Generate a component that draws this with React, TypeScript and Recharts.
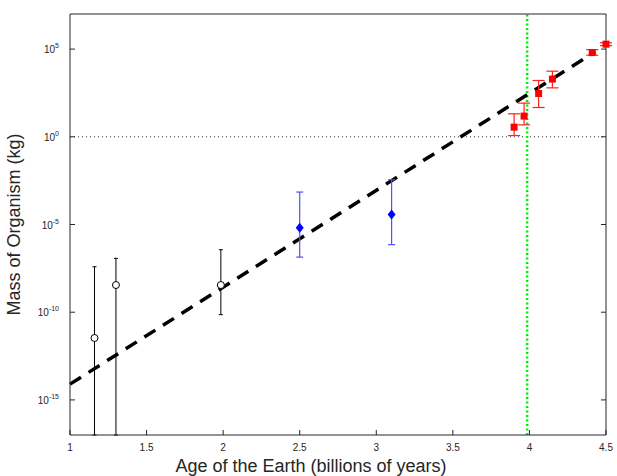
import React from 'react';
import { ComposedChart, Scatter, Line, ErrorBar, XAxis, YAxis, ReferenceLine } from 'recharts';

// masses are stored as log10(kg)
const xTicks = [1, 1.5, 2, 2.5, 3, 3.5, 4, 4.5];
const yTicks = [-15, -10, -5, 0, 5];

const blackAge = [1.16, 1.3, 1.985];
const blackMass = [-11.47, -8.45, -8.45];
const blackLow = [-17, -17, -10.14];
const blackHigh = [-7.41, -6.93, -6.44];

const blueAge = [2.5, 3.1];
const blueMass = [-5.18, -4.43];
const blueLow = [-6.86, -6.15];
const blueHigh = [-3.15, -2.45];

const redAge = [3.9, 3.965, 4.06, 4.15, 4.41, 4.5];
const redMass = [0.55, 1.18, 2.47, 3.29, 4.8, 5.28];
const redLow = [0.07, 0.68, 1.67, 2.79, 4.65, 5.2];
const redHigh = [1.31, 1.92, 3.21, 3.74, 4.97, 5.36];

const fitAge = [1, 4.43];
const fitMass = [-14.1, 4.85];

const greenAge = 3.985;

const build = (ages: number[], mass: number[], lo: number[], hi: number[]) =>
  ages.map((x, i) => ({ x, y: mass[i], err: [mass[i] - lo[i], hi[i] - mass[i]] }));

const blackData = build(blackAge, blackMass, blackLow, blackHigh);
const blueData = build(blueAge, blueMass, blueLow, blueHigh);
const redData = build(redAge, redMass, redLow, redHigh);
const fitData = fitAge.map((x, i) => ({ x, y: fitMass[i] }));

const AXIS = '#262626';
const FONT = 'Liberation Sans, Arial, Helvetica, sans-serif';

const BottomTick = (p: any) => (
  <g>
    <line x1={p.x} x2={p.x} y1={p.y} y2={p.y - 5} stroke={AXIS} />
    <text x={p.x} y={p.y + 16} textAnchor="middle" fontSize={10} fill={AXIS} fontFamily={FONT}>
      {p.payload.value}
    </text>
  </g>
);

const LeftTick = (p: any) => (
  <g>
    <line x1={p.x} x2={p.x + 5} y1={p.y} y2={p.y} stroke={AXIS} />
    <text x={p.x - 11} y={p.y + 4} textAnchor="end" fontSize={10} fill={AXIS} fontFamily={FONT}>
      <tspan>10</tspan>
      <tspan dy={-5} fontSize={7}>{p.payload.value}</tspan>
    </text>
  </g>
);

const RightTick = (p: any) => (
  <line x1={p.x} x2={p.x - 5} y1={p.y} y2={p.y} stroke={AXIS} />
);

const Circle = (p: any) => (
  <circle cx={p.cx} cy={p.cy} r={3.5} fill="#fff" stroke="#000" strokeWidth={1} />
);

const Diamond = (p: any) => (
  <path d={`M${p.cx},${p.cy - 5} L${p.cx + 4},${p.cy} L${p.cx},${p.cy + 5} L${p.cx - 4},${p.cy} Z`} fill="#0000ff" />
);

const Square = (p: any) => (
  <rect x={p.cx - 3.5} y={p.cy - 3.5} width={7} height={7} fill="#ff0000" />
);

export default function App() {
  return (
    <div style={{ position: 'absolute', left: 0, top: 0, width: 617, height: 476, background: '#fff' }}>
      <ComposedChart width={617} height={476} margin={{ top: 4, right: 10, bottom: 0, left: 0 }}>
        <XAxis
          xAxisId={0}
          type="number"
          dataKey="x"
          domain={[1, 4.5]}
          ticks={xTicks}
          height={41}
          stroke={AXIS}
          tickLine={false}
          tickSize={0}
          tickMargin={0}
          tick={<BottomTick />}
          label={{ value: 'Age of the Earth (billions of years)', position: 'insideBottom', offset: 4, dx: -27, fontSize: 18, fill: AXIS, fontFamily: FONT }}
        />
        <XAxis
          xAxisId="top"
          orientation="top"
          type="number"
          dataKey="x"
          domain={[1, 4.5]}
          ticks={xTicks}
          height={10}
          stroke={AXIS}
          tickLine={{ stroke: AXIS }}
          tickSize={-5}
          tickMargin={0}
          tick={false}
        />
        <YAxis
          yAxisId={0}
          type="number"
          domain={[-17, 7]}
          ticks={yTicks}
          width={70}
          stroke={AXIS}
          tickLine={false}
          tickSize={0}
          tickMargin={0}
          tick={<LeftTick />}
          label={{ value: 'Mass of Organism (kg)', angle: -90, position: 'insideLeft', offset: 14, fontSize: 18, fill: AXIS, fontFamily: FONT, style: { textAnchor: 'middle' } }}
        />
        <YAxis
          yAxisId="right"
          orientation="right"
          type="number"
          dataKey="y"
          domain={[-17, 7]}
          ticks={yTicks}
          width={1}
          stroke={AXIS}
          tickLine={false}
          tickSize={0}
          tickMargin={0}
          tick={<RightTick />}
        />
        <ReferenceLine y={0} stroke="#333" strokeDasharray="1 3" />
        <ReferenceLine x={greenAge} stroke="#00ee00" strokeWidth={2.5} strokeDasharray="2 2.5" />
        <Line data={fitData} xAxisId="top" yAxisId="right" dataKey="y" stroke="#000" strokeWidth={3.5} strokeDasharray="13 9" dot={false} isAnimationActive={false} />
        <Scatter data={blackData} dataKey="y" shape={<Circle />} isAnimationActive={false}>
          <ErrorBar dataKey="err" direction="y" width={2} stroke="#000" strokeWidth={1} isAnimationActive={false} />
        </Scatter>
        <Scatter data={blueData} dataKey="y" shape={<Diamond />} isAnimationActive={false}>
          <ErrorBar dataKey="err" direction="y" width={3.5} stroke="#5050ff" strokeWidth={1.2} isAnimationActive={false} />
        </Scatter>
        <Scatter data={redData} dataKey="y" shape={<Square />} isAnimationActive={false}>
          <ErrorBar dataKey="err" direction="y" width={6} stroke="#ff2020" strokeWidth={1.2} isAnimationActive={false} />
        </Scatter>
      </ComposedChart>
    </div>
  );
}
